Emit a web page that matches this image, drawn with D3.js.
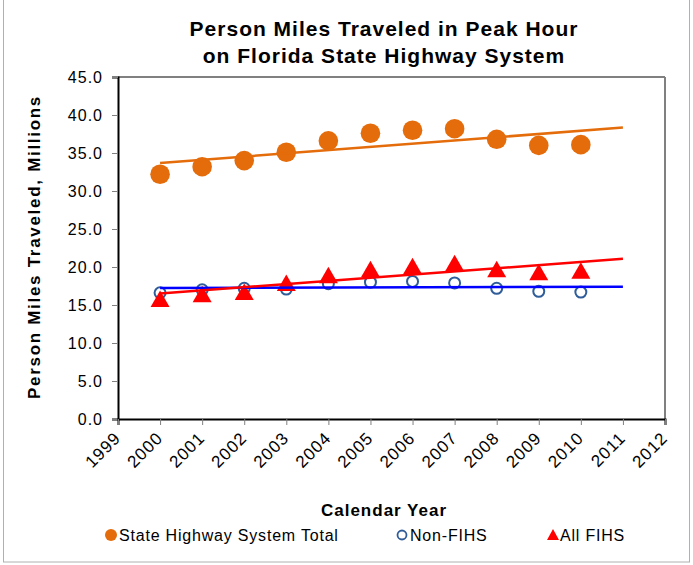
<!DOCTYPE html>
<html>
<head>
<meta charset="utf-8">
<script src="https://cdn.jsdelivr.net/npm/d3@7"></script>
<style>
  body { margin: 0; background: #fff; }
  text { font-family: "Liberation Sans", Arial, sans-serif; fill: #000; }
</style>
</head>
<body>
<script>
// Data
const years = [2000, 2001, 2002, 2003, 2004, 2005, 2006, 2007, 2008, 2009, 2010];
const shsTotal = [32.2, 33.2, 34.0, 35.1, 36.6, 37.6, 38.0, 38.2, 36.8, 36.0, 36.1];
const nonFihs = [16.6, 17.0, 17.2, 17.1, 17.8, 18.0, 18.1, 17.9, 17.2, 16.8, 16.7];
const allFihs = [15.8, 16.4, 16.7, 17.9, 18.9, 19.7, 20.1, 20.5, 19.7, 19.3, 19.5];
const xTicks = [1999, 2000, 2001, 2002, 2003, 2004, 2005, 2006, 2007, 2008, 2009, 2010, 2011, 2012];
const yTicks = [0, 5, 10, 15, 20, 25, 30, 35, 40, 45];
const trendEnd = 2011;

const W = 693, H = 565;
const margin = { top: 77, right: 28, bottom: 146, left: 118 };
const width = W - margin.left - margin.right;
const height = H - margin.top - margin.bottom;

const svg = d3.select("body").append("svg")
    .attr("width", W)
    .attr("height", H);

// outer chart border
svg.append("rect")
    .attr("x", 3.5).attr("y", -2)
    .attr("width", 686).attr("height", 564)
    .attr("fill", "none")
    .attr("stroke", "#b0b0b0")
    .attr("stroke-width", 1);

// title
const title = svg.append("text")
    .attr("text-anchor", "middle")
    .style("font-size", "21px")
    .style("font-weight", "bold")
    .style("letter-spacing", "1px");
title.append("tspan").attr("x", 384).attr("y", 36).text("Person Miles Traveled in Peak Hour");
title.append("tspan").attr("x", 384).attr("y", 63).text("on Florida State Highway System");

const g = svg.append("g")
    .attr("transform", "translate(" + margin.left + "," + margin.top + ")");

const x = d3.scaleLinear().domain([1999, 2012]).range([0, width]);
const y = d3.scaleLinear().domain([0, 45]).range([height, 0]);

// plot frame: top and right in gray
g.append("line").attr("x1", 0).attr("x2", width).attr("y1", 0).attr("y2", 0)
    .attr("stroke", "#808080").attr("stroke-width", 2);
g.append("line").attr("x1", width).attr("x2", width).attr("y1", 0).attr("y2", height)
    .attr("stroke", "#808080").attr("stroke-width", 2);

// y axis
const yAxis = g.append("g")
    .call(d3.axisLeft(y).tickValues(yTicks).tickFormat(d3.format(".1f")).tickSize(6).tickPadding(9));
yAxis.select(".domain").attr("stroke", "#000").attr("stroke-width", 2);
yAxis.selectAll(".tick line").attr("stroke", "#808080");
yAxis.selectAll(".tick text")
    .style("font-size", "16px")
    .style("letter-spacing", "1px")
    .attr("fill", "#000");

// x axis
const xAxis = g.append("g")
    .attr("transform", "translate(0," + height + ")")
    .call(d3.axisBottom(x).tickValues(xTicks).tickFormat(d3.format("d")).tickSize(6));
xAxis.select(".domain").attr("stroke", "#000").attr("stroke-width", 2);
xAxis.selectAll(".tick line").attr("stroke", "#808080");
xAxis.selectAll(".tick text")
    .style("font-size", "17px")
    .style("letter-spacing", "1px")
    .attr("fill", "#000")
    .attr("text-anchor", "end")
    .attr("x", 0).attr("y", 0).attr("dy", "0.35em")
    .attr("transform", "translate(-1,16) rotate(-45)");

// axis titles
svg.append("text")
    .attr("transform", "translate(34,247) rotate(-90)")
    .attr("text-anchor", "middle")
    .attr("dy", "0.35em")
    .style("font-size", "17px")
    .style("font-weight", "bold")
    .style("letter-spacing", "1.7px")
    .text("Person Miles Traveled, Millions");

svg.append("text")
    .attr("x", 384).attr("y", 516)
    .attr("text-anchor", "middle")
    .style("font-size", "17px")
    .style("font-weight", "bold")
    .style("letter-spacing", "1px")
    .text("Calendar Year");

// linear trend (least squares), drawn from first year to trendEnd
function trend(vals) {
    const mx = d3.mean(years), my = d3.mean(vals);
    const slope = d3.sum(years, (yr, i) => (yr - mx) * (vals[i] - my)) /
                  d3.sum(years, yr => (yr - mx) * (yr - mx));
    return [years[0], trendEnd].map(yr => ({ x: yr, y: my + slope * (yr - mx) }));
}
const line = d3.line().x(d => x(d.x)).y(d => y(d.y));

const series = [
    { vals: shsTotal, color: "#E46C0A" },
    { vals: nonFihs, color: "#0000FF" },
    { vals: allFihs, color: "#FF0000" }
];

// markers
const triPath = "M0,-8.5L9.5,8L-9.5,8Z";

g.selectAll(".shs")
    .data(shsTotal)
    .enter().append("circle")
    .attr("class", "shs")
    .attr("cx", (d, i) => x(years[i]))
    .attr("cy", d => y(d))
    .attr("r", 9.8)
    .attr("fill", "#E46C0A");

g.selectAll(".nonfihs")
    .data(nonFihs)
    .enter().append("circle")
    .attr("class", "nonfihs")
    .attr("cx", (d, i) => x(years[i]))
    .attr("cy", d => y(d))
    .attr("r", 5.5)
    .attr("fill", "none")
    .attr("stroke", "#2F5D9A")
    .attr("stroke-width", 2);

g.selectAll(".allfihs")
    .data(allFihs)
    .enter().append("path")
    .attr("class", "allfihs")
    .attr("d", triPath)
    .attr("transform", (d, i) => "translate(" + x(years[i]) + "," + y(d) + ")")
    .attr("fill", "#FF0000");

// trend lines
series.forEach(s => {
    g.append("path")
        .datum(trend(s.vals))
        .attr("fill", "none")
        .attr("stroke", s.color)
        .attr("stroke-width", 2.5)
        .attr("d", line);
});

// legend
const legend = svg.append("g").attr("transform", "translate(0,535)");
const legendText = (lx, label) => legend.append("text")
    .attr("x", lx).attr("y", 0).attr("dy", "0.35em")
    .style("font-size", "16px")
    .style("letter-spacing", "0.8px")
    .text(label);

legend.append("circle").attr("cx", 111).attr("cy", 0).attr("r", 6).attr("fill", "#E46C0A");
legendText(119, "State Highway System Total");
legend.append("circle").attr("cx", 402).attr("cy", 0).attr("r", 4.5)
    .attr("fill", "none").attr("stroke", "#2F5D9A").attr("stroke-width", 1.8);
legendText(410, "Non-FIHS");
legend.append("path").attr("d", "M0,-6L6,5L-6,5Z")
    .attr("transform", "translate(553,0)").attr("fill", "#FF0000");
legendText(560, "All FIHS");
</script>
</body>
</html>
